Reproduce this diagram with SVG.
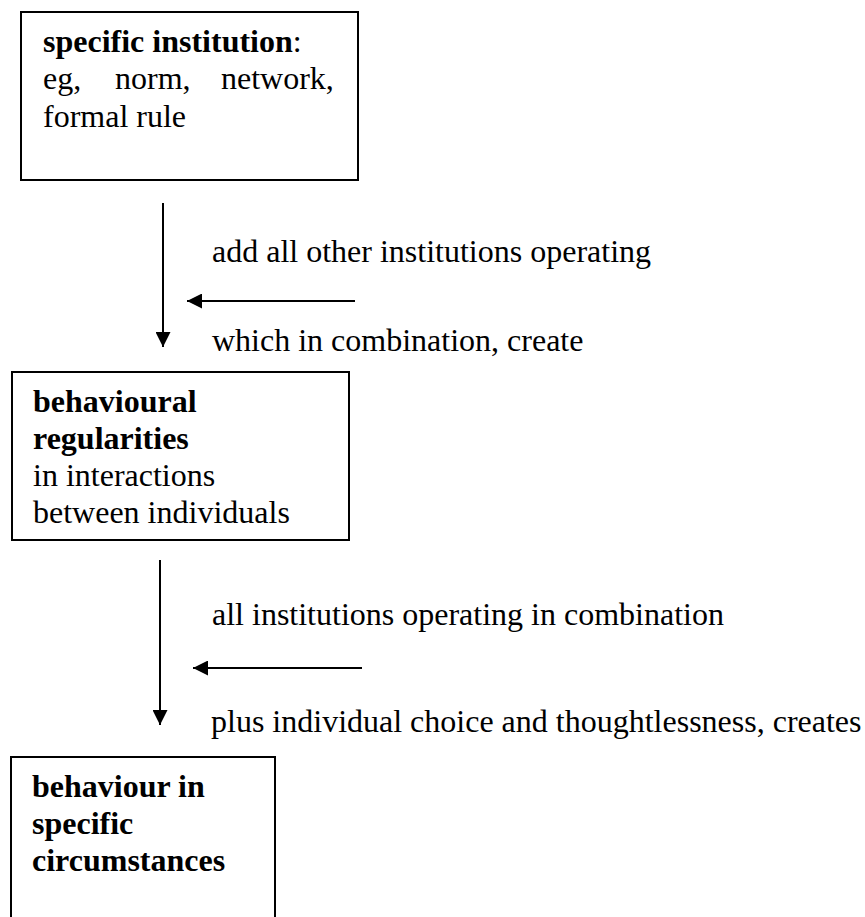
<svg xmlns="http://www.w3.org/2000/svg" width="865" height="917" viewBox="0 0 865 917">
  <style>
    text { font-family: "Liberation Serif", "Times New Roman", serif; font-size: 32px; fill: #000; }
    .b { font-weight: bold; }
    .box { fill: #fff; stroke: #000; stroke-width: 2; }
    .wire { stroke: #000; stroke-width: 2; fill: none; }
  </style>
  <defs>
    <marker id="head" viewBox="0 0 10 10" refX="10" refY="5" markerWidth="15" markerHeight="15" markerUnits="userSpaceOnUse" orient="auto">
      <path d="M0,0 L10,5 L0,10 Z" fill="#000"/>
    </marker>
  </defs>
  <rect width="865" height="917" fill="#fff"/>

  <!-- top box -->
  <g id="institution">
    <rect class="box" x="21" y="12" width="337" height="168"/>
    <text x="43" y="52"><tspan class="b">specific institution</tspan>:</text>
    <text y="89"><tspan x="43">eg,</tspan><tspan x="115">norm,</tspan><tspan x="221">network,</tspan></text>
    <text x="43" y="127">formal rule</text>
  </g>

  <!-- middle box -->
  <g id="regularities">
    <rect class="box" x="12" y="372" width="337" height="168"/>
    <text class="b" x="33" y="412">behavioural</text>
    <text class="b" x="33" y="449">regularities</text>
    <text x="33" y="486">in interactions</text>
    <text x="33" y="523">between individuals</text>
  </g>

  <!-- bottom box, runs off the page -->
  <g id="behaviour">
    <rect class="box" x="11" y="757" width="264" height="180"/>
    <text class="b" x="32" y="797">behaviour in</text>
    <text class="b" x="32" y="834">specific</text>
    <text class="b" x="32" y="871">circumstances</text>
  </g>

  <!-- arrows -->
  <g id="connectors">
    <line class="wire" x1="163" y1="203" x2="163" y2="347" marker-end="url(#head)"/>
    <line class="wire" x1="355" y1="301" x2="187" y2="301" marker-end="url(#head)"/>
    <line class="wire" x1="160" y1="560" x2="160" y2="725" marker-end="url(#head)"/>
    <line class="wire" x1="362" y1="668" x2="193" y2="668" marker-end="url(#head)"/>
  </g>

  <!-- arrow labels -->
  <g id="labels">
    <text x="212" y="262">add all other institutions operating</text>
    <text x="212" y="351">which in combination, create</text>
    <text x="212" y="625">all institutions operating in combination</text>
    <text x="211" y="732">plus individual choice and thoughtlessness, creates</text>
  </g>
</svg>
